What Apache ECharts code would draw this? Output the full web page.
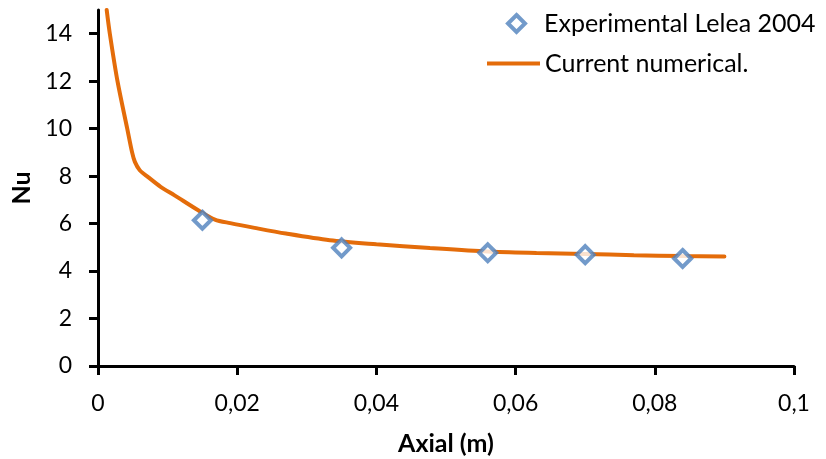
<!DOCTYPE html>
<html>
<head>
<meta charset="utf-8">
<script src="https://cdn.jsdelivr.net/npm/echarts@6/dist/echarts.min.js"></script>
<style>
  html, body { margin: 0; padding: 0; background: #fff; }
  #chart { width: 826px; height: 459px; }
</style>
</head>
<body>
<div id="chart"></div>
<script>
// Experimental points (axial position in m, Nusselt number)
const expX = [0.015, 0.035, 0.056, 0.070, 0.084];
const expNu = [6.14, 4.98, 4.77, 4.69, 4.53];

// Numerical solution along the tube
const numX = [0.00125, 0.0017, 0.0028, 0.0042, 0.0049, 0.0053, 0.0060, 0.0072, 0.0090, 0.0110,
              0.0144, 0.0168, 0.0190, 0.0225, 0.0270, 0.0333, 0.0400, 0.0477, 0.0560, 0.0630,
              0.0700, 0.0770, 0.0840, 0.0900];
const numNu = [15.0, 14.0, 12.0, 10.0, 9.0, 8.6, 8.25, 7.96, 7.55, 7.19,
               6.56, 6.17, 6.02, 5.82, 5.58, 5.30, 5.13, 4.97, 4.82, 4.76,
               4.72, 4.67, 4.63, 4.61];

const yTicks = [0, 2, 4, 6, 8, 10, 12, 14];
const xTicks = [0, 0.02, 0.04, 0.06, 0.08, 0.1];

const expName = 'Experimental Lelea 2004';
const numName = 'Current numerical.';

const FONT = 'Lato';
const BLUE = '#4F81BD';
const ORANGE = '#E46C0A';

const chart = echarts.init(document.getElementById('chart'), null, { renderer: 'canvas' });

const fmtX = v => Number(Number(v).toFixed(3)).toString().replace('.', ',');
const legendText = { fontFamily: FONT, fontSize: 25, color: '#000' };

chart.setOption({
  animation: false,
  backgroundColor: '#fff',
  textStyle: { fontFamily: FONT, color: '#000' },
  grid: { left: 98, right: 32, top: 10, bottom: 93, containLabel: false, outerBoundsMode: 'none' },
  legend: [
    {
      // open diamond marker, text starting where the line entry's text starts
      data: [{ name: expName, icon: 'path://M0,-1L1,0L0,1L-1,0Z' }],
      left: 501, top: 6,
      itemWidth: 17, itemHeight: 17,
      symbolKeepAspect: true,
      itemStyle: { color: '#fff', borderColor: BLUE, borderWidth: 4 },
      textStyle: Object.assign({ padding: [0, 0, 0, 14] }, legendText)
    },
    {
      data: [{ name: numName, icon: 'rect' }],
      left: 482, top: 46,
      itemWidth: 53, itemHeight: 4,
      itemStyle: { color: ORANGE },
      textStyle: legendText
    }
  ],
  xAxis: {
    type: 'value',
    min: 0, max: 0.1, interval: 0.02,
    name: 'Axial (m)',
    nameLocation: 'middle',
    nameGap: 65,
    nameTextStyle: { fontFamily: FONT, fontSize: 25, fontWeight: 'bold', color: '#000' },
    axisLine: { show: true, lineStyle: { color: '#000', width: 3 } },
    axisTick: { show: true, inside: false, length: 9, lineStyle: { color: '#000', width: 3 } },
    axisLabel: {
      margin: 26, fontFamily: FONT, fontSize: 23, color: '#000',
      customValues: xTicks, formatter: fmtX
    },
    splitLine: { show: false }
  },
  yAxis: {
    type: 'value',
    min: 0, max: 15, interval: 2,
    name: 'Nu',
    nameLocation: 'middle',
    nameRotate: 90,
    nameGap: 64,
    nameTextStyle: { fontFamily: FONT, fontSize: 25, fontWeight: 'bold', color: '#000' },
    axisLine: { show: true, lineStyle: { color: '#000', width: 3 } },
    axisTick: { show: true, inside: false, length: 9, lineStyle: { color: '#000', width: 3 },
                customValues: yTicks },
    axisLabel: {
      margin: 26, fontFamily: FONT, fontSize: 23, color: '#000',
      customValues: yTicks
    },
    splitLine: { show: false }
  },
  series: [
    {
      name: numName,
      type: 'line',
      data: numX.map((x, i) => [x, numNu[i]]),
      showSymbol: false,
      symbol: 'none',
      smooth: 0.3,
      clip: true,
      lineStyle: { color: ORANGE, width: 4, cap: 'round' },
      itemStyle: { color: ORANGE },
      z: 2
    },
    {
      name: expName,
      type: 'scatter',
      data: expX.map((x, i) => [x, expNu[i]]),
      symbol: 'diamond',
      symbolSize: 17,
      itemStyle: { color: '#fff', borderColor: BLUE, borderWidth: 4 },
      z: 3
    }
  ]
});
</script>
</body>
</html>
